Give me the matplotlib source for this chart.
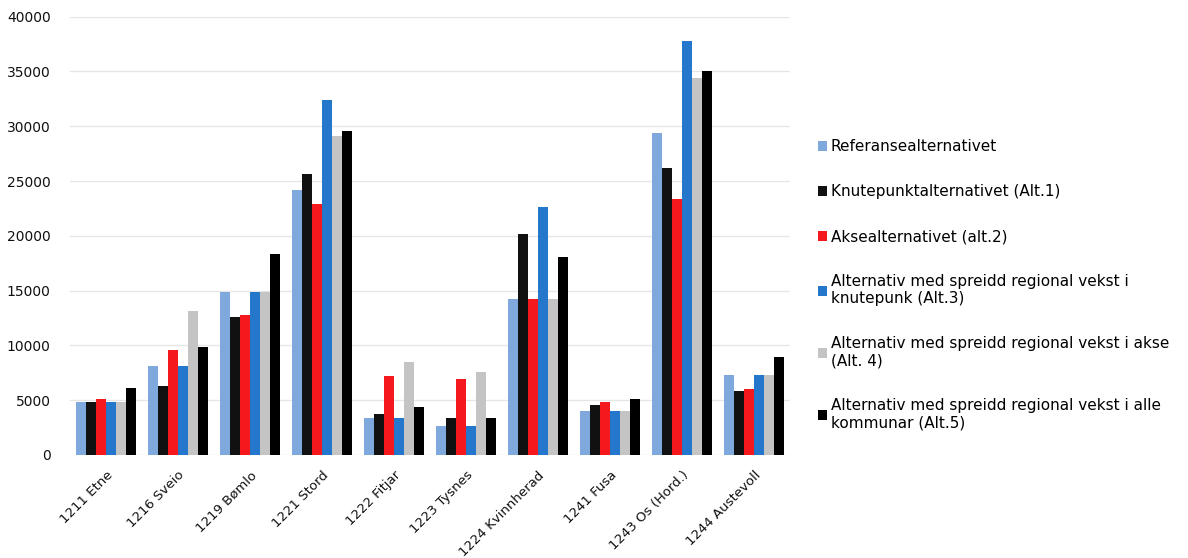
import numpy as np
import matplotlib
matplotlib.use("Agg")
from matplotlib import pyplot as plt

# kommunar og verdiar lest av figuren
kommunar = ['1211 Etne', '1216 Sveio', '1219 Bømlo', '1221 Stord', '1222 Fitjar',
            '1223 Tysnes', '1224 Kvinnherad', '1241 Fusa', '1243 Os (Hord.)', '1244 Austevoll']

referanse = [4800, 8100, 14900, 24200, 3400, 2600, 14200, 4000, 29400, 7300]
alt1 = [4800, 6300, 12600, 25600, 3700, 3400, 20200, 4500, 26200, 5800]
alt2 = [5100, 9600, 12800, 22900, 7200, 6900, 14200, 4800, 23400, 6000]
alt3 = [4800, 8100, 14900, 32400, 3400, 2600, 22600, 4000, 37800, 7300]
alt4 = [4800, 13100, 14900, 29100, 8500, 7600, 14200, 4000, 34400, 7300]
alt5 = [6100, 9800, 18300, 29600, 4400, 3400, 18100, 5100, 35000, 8900]

serier = [referanse, alt1, alt2, alt3, alt4, alt5]
namn = ['Referansealternativet',
        'Knutepunktalternativet (Alt.1)',
        'Aksealternativet (alt.2)',
        'Alternativ med spreidd regional vekst i\nknutepunk (Alt.3)',
        'Alternativ med spreidd regional vekst i akse\n(Alt. 4)',
        'Alternativ med spreidd regional vekst i alle\nkommunar (Alt.5)']
fargar = ['#7FA8DC', '#111111', '#F5181C', '#2577CC', '#C4C4C4', '#000000']

plt.rcParams['font.family'] = ['DejaVu Sans']

fig = plt.figure(figsize=(11.88, 5.58), dpi=100)
ax = fig.add_axes([0.059, 0.185, 0.606, 0.785])

x = np.arange(len(kommunar))
w = 0.14
for i, (verdi, farge, n) in enumerate(zip(serier, fargar, namn)):
	ax.bar(x + (i - 2.5) * w, verdi, width=w, color=farge, label=n, zorder=3)

ax.set_xlim(-0.5, len(kommunar) - 0.5)
ax.set_ylim(0, 40000)
ax.set_yticks(np.arange(0, 40001, 5000))
ax.yaxis.grid(True, color='#E6E6E6', linewidth=1, zorder=0)
for s in ax.spines.values():
	s.set_visible(False)
ax.tick_params(axis='both', length=0, labelsize=9.5, colors='#111111')
ax.tick_params(axis='y', labelsize=10, pad=14)
ax.tick_params(axis='x', pad=10)
ax.set_xticks(x)
ax.set_xticklabels(kommunar, rotation=45, ha='right', rotation_mode='anchor')

fig.legend(loc='upper left', bbox_to_anchor=(0.683, 0.761), frameon=False,
           fontsize=11, handlelength=0.6, handleheight=0.6, handletextpad=0.25,
           labelspacing=1.95, borderaxespad=0)

fig.savefig('out.png', dpi=100)
